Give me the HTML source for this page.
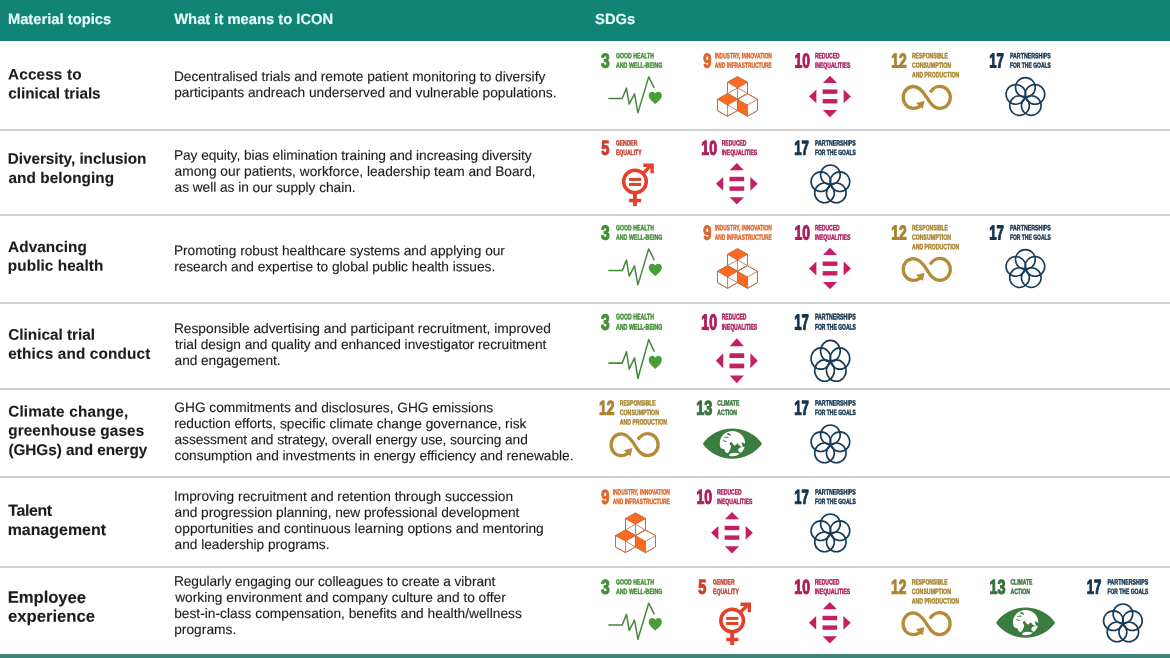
<!DOCTYPE html>
<html lang="en">
<head>
<meta charset="utf-8">
<title>Material topics and SDGs</title>
<style>
html,body{margin:0;padding:0;background:#fff}
body{width:1170px;height:658px;position:relative;overflow:hidden;font-family:"Liberation Sans",Arial,Helvetica,sans-serif;color:#1c1c1c}
h1,h2,p,hr{margin:0;padding:0;border:0;font-size:inherit;font-weight:inherit}
.hd{position:absolute;left:0;top:0;width:1170px;height:41.3px;background:#128475}
.ft{position:absolute;left:0;top:654.3px;width:1170px;height:4px;background:#3e8375}
.h,.t,.b{position:absolute;left:0;top:0;transform-origin:0 0;white-space:nowrap}
.h{font-weight:700;font-size:14.75px;line-height:20px;color:#e6fffb;-webkit-text-stroke:.15px #e6fffb}
.s{position:absolute;left:0;width:1170px;height:1.8px;background:#d0d0d0}
.t{font-weight:700;font-size:15.3px;line-height:19.0px;-webkit-text-stroke:.12px #1c1c1c}
.b{font-weight:400;font-size:13.72px;line-height:16.02px;-webkit-text-stroke:.12px #1c1c1c}
.g{position:absolute;left:590px;overflow:hidden}
.g text{font-family:"Liberation Sans",Arial,sans-serif;font-weight:700;stroke-linejoin:round;paint-order:stroke fill}
.g .n{font-size:20.1px;stroke-width:1.15px}
.g .l{font-size:7.7px;stroke-width:0.45px}
</style>
</head>
<body>
<header class="hd">
<h1 class="h" style="transform:translate(7.88px,8.90px) skewY(.03deg)">Material topics</h1>
<h1 class="h" style="transform:translate(174.20px,8.90px) skewY(.03deg)">What it means to ICON</h1>
<h1 class="h" style="transform:translate(595.07px,8.90px) skewY(.03deg)">SDGs</h1>
</header>
<main>
<section>
<h2>
<span class="t" style="letter-spacing:0.144px;transform:translate(8.06px,64.50px) skewY(.03deg)">Access to</span>
<span class="t" style="letter-spacing:-0.028px;transform:translate(8.32px,83.56px) skewY(.03deg)">clinical trials</span>
</h2>
<p>
<span class="b" style="letter-spacing:-0.012px;transform:translate(173.93px,69.00px) skewY(.03deg)">Decentralised trials and remote patient monitoring to diversify</span>
<span class="b" style="letter-spacing:-0.008px;transform:translate(174.14px,85.02px) skewY(.03deg)">participants andreach underserved and vulnerable populations.</span>
</p>
<svg class="g" style="top:42px" width="580" height="88" viewBox="590 42 580 88">
<g transform="translate(600.90 52.65)"><text class="n" x="0.15" y="14.80" fill="#438f35" stroke="#438f35" textLength="8.70" lengthAdjust="spacingAndGlyphs" transform="skewY(.05)">3</text><text class="l" x="15.1" y="5.55" fill="#438f35" stroke="#438f35" textLength="38.0" lengthAdjust="spacingAndGlyphs" transform="skewY(.05)">GOOD HEALTH</text><text class="l" x="15.1" y="15.05" fill="#438f35" stroke="#438f35" textLength="46.3" lengthAdjust="spacingAndGlyphs" transform="skewY(.05)">AND WELL-BEING</text><polyline points="8.0,45.9 21.3,45.9 25.6,35.4 28.3,51.4 33.6,41.1 37.0,60.2 47.8,24.2 53.2,34.9" fill="none" stroke="#45883a" stroke-width="1.5" stroke-linejoin="round" stroke-linecap="round"/><path d="M54.4,51.4 C52,49.3 47.8,46.4 47.8,42.9 C47.8,40.7 49.5,39.1 51.4,39.1 C52.6,39.1 53.8,39.8 54.4,40.9 C55,39.8 56.2,39.1 57.4,39.1 C59.3,39.1 61,40.7 61,42.9 C61,46.4 56.8,49.3 54.4,51.4 Z" fill="#4a9e38"/></g>
<g transform="translate(703.10 52.65)"><text class="n" x="0.15" y="14.80" fill="#dd672d" stroke="#dd672d" textLength="8.20" lengthAdjust="spacingAndGlyphs" transform="skewY(.05)">9</text><text class="l" x="11.6" y="5.55" fill="#dd672d" stroke="#dd672d" textLength="57.2" lengthAdjust="spacingAndGlyphs" transform="skewY(.05)">INDUSTRY, INNOVATION</text><text class="l" x="11.6" y="15.05" fill="#dd672d" stroke="#dd672d" textLength="57.2" lengthAdjust="spacingAndGlyphs" transform="skewY(.05)">AND INFRASTRUCTURE</text><polygon points="34.40,24.00 44.40,29.65 44.40,40.95 34.40,46.60 24.40,40.95 24.40,29.65" fill="#fff" stroke="#bd6937" stroke-width="0.8" stroke-linejoin="round"/><polygon points="34.40,24.00 44.40,29.65 34.40,35.30 24.40,29.65" fill="#fa6a20"/><line x1="34.40" y1="35.30" x2="24.40" y2="29.65" stroke="#bd6937" stroke-width="0.8" stroke-linecap="round"/><line x1="34.40" y1="35.30" x2="44.40" y2="29.65" stroke="#bd6937" stroke-width="0.8" stroke-linecap="round"/><line x1="34.40" y1="35.30" x2="34.40" y2="46.60" stroke="#bd6937" stroke-width="0.8" stroke-linecap="round"/><line x1="34.40" y1="35.30" x2="24.40" y2="40.95" stroke="#bd6937" stroke-width="0.8" stroke-linecap="round"/><line x1="34.40" y1="35.30" x2="44.40" y2="40.95" stroke="#bd6937" stroke-width="0.8" stroke-linecap="round"/><polygon points="34.40,24.00 44.40,29.65 44.40,40.95 34.40,46.60 24.40,40.95 24.40,29.65" fill="none" stroke="#bd6937" stroke-width="0.8" stroke-linejoin="round"/><polygon points="24.40,41.00 34.40,46.65 34.40,57.95 24.40,63.60 14.40,57.95 14.40,46.65" fill="#fff" stroke="#bd6937" stroke-width="0.8" stroke-linejoin="round"/><polygon points="24.40,41.00 34.40,46.65 24.40,52.30 14.40,46.65" fill="#fa6a20"/><line x1="24.40" y1="52.30" x2="14.40" y2="46.65" stroke="#bd6937" stroke-width="0.8" stroke-linecap="round"/><line x1="24.40" y1="52.30" x2="34.40" y2="46.65" stroke="#bd6937" stroke-width="0.8" stroke-linecap="round"/><line x1="24.40" y1="52.30" x2="24.40" y2="63.60" stroke="#bd6937" stroke-width="0.8" stroke-linecap="round"/><line x1="24.40" y1="52.30" x2="34.40" y2="57.95" stroke="#bd6937" stroke-width="0.8" stroke-linecap="round"/><polygon points="24.40,41.00 34.40,46.65 34.40,57.95 24.40,63.60 14.40,57.95 14.40,46.65" fill="none" stroke="#bd6937" stroke-width="0.8" stroke-linejoin="round"/><polygon points="44.40,41.00 54.40,46.65 54.40,57.95 44.40,63.60 34.40,57.95 34.40,46.65" fill="#fff" stroke="#bd6937" stroke-width="0.8" stroke-linejoin="round"/><polygon points="34.40,46.65 44.40,52.30 44.40,63.60 34.40,57.95" fill="#fa6a20"/><line x1="44.40" y1="52.30" x2="34.40" y2="46.65" stroke="#bd6937" stroke-width="0.8" stroke-linecap="round"/><line x1="44.40" y1="52.30" x2="54.40" y2="46.65" stroke="#bd6937" stroke-width="0.8" stroke-linecap="round"/><line x1="44.40" y1="52.30" x2="44.40" y2="63.60" stroke="#bd6937" stroke-width="0.8" stroke-linecap="round"/><polygon points="44.40,41.00 54.40,46.65 54.40,57.95 44.40,63.60 34.40,57.95 34.40,46.65" fill="none" stroke="#bd6937" stroke-width="0.8" stroke-linejoin="round"/></g>
<g transform="translate(794.80 52.65)"><text class="n" x="-0.25" y="14.80" fill="#ad1d5c" stroke="#ad1d5c" textLength="15.60" lengthAdjust="spacingAndGlyphs" transform="skewY(.05)">10</text><text class="l" x="20.1" y="5.55" fill="#ad1d5c" stroke="#ad1d5c" textLength="24.8" lengthAdjust="spacingAndGlyphs" transform="skewY(.05)">REDUCED</text><text class="l" x="20.1" y="15.05" fill="#ad1d5c" stroke="#ad1d5c" textLength="35.5" lengthAdjust="spacingAndGlyphs" transform="skewY(.05)">INEQUALITIES</text><rect x="27.85" y="36.80" width="14.7" height="4.4" fill="#c61e65"/><rect x="27.85" y="46.40" width="14.7" height="4.4" fill="#c61e65"/><polygon points="35.20,23.00 42.30,30.30 28.10,30.30" fill="#c61e65"/><polygon points="35.20,64.60 42.30,57.30 28.10,57.30" fill="#c61e65"/><polygon points="14.30,43.80 21.60,36.90 21.60,50.70" fill="#c61e65"/><polygon points="56.10,43.80 48.80,36.90 48.80,50.70" fill="#c61e65"/></g>
<g transform="translate(891.50 52.65)"><text class="n" x="-0.25" y="14.80" fill="#a9832f" stroke="#a9832f" textLength="15.40" lengthAdjust="spacingAndGlyphs" transform="skewY(.05)">12</text><text class="l" x="20.5" y="5.55" fill="#a9832f" stroke="#a9832f" textLength="35.9" lengthAdjust="spacingAndGlyphs" transform="skewY(.05)">RESPONSIBLE</text><text class="l" x="20.5" y="15.05" fill="#a9832f" stroke="#a9832f" textLength="39.1" lengthAdjust="spacingAndGlyphs" transform="skewY(.05)">CONSUMPTION</text><text class="l" x="20.5" y="24.55" fill="#a9832f" stroke="#a9832f" textLength="47.3" lengthAdjust="spacingAndGlyphs" transform="skewY(.05)">AND PRODUCTION</text><path d="M38.6,39.6 C41,36 44.5,33.7 48.3,33.7 C54.3,33.7 58.8,38.6 58.8,44.7 C58.8,50.8 54.3,55.7 48.3,55.7 C42,55.7 38.5,50 35.2,44.7 C31.9,39.4 28,33.85 22.0,33.85 C16.0,33.85 11.8,38.7 11.8,44.75 C11.8,50.8 16.0,55.7 22.0,55.7 C24.3,55.7 26.6,54.9 28.8,53.4" fill="none" stroke="#b48b36" stroke-width="3.3"/><polygon points="24.6,50.3 33.0,48.0 31.3,56.4" fill="#b48b36"/></g>
<g transform="translate(989.60 52.65)"><text class="n" x="-0.45" y="14.80" fill="#15344f" stroke="#15344f" textLength="14.70" lengthAdjust="spacingAndGlyphs" transform="skewY(.05)">17</text><text class="l" x="20.3" y="5.55" fill="#15344f" stroke="#15344f" textLength="41.0" lengthAdjust="spacingAndGlyphs" transform="skewY(.05)">PARTNERSHIPS</text><text class="l" x="20.3" y="15.05" fill="#15344f" stroke="#15344f" textLength="41.0" lengthAdjust="spacingAndGlyphs" transform="skewY(.05)">FOR THE GOALS</text><circle cx="35.80" cy="34.80" r="9.85" fill="none" stroke="#173b58" stroke-width="1.6"/><circle cx="45.31" cy="41.71" r="9.85" fill="none" stroke="#173b58" stroke-width="1.6"/><circle cx="41.68" cy="52.89" r="9.85" fill="none" stroke="#173b58" stroke-width="1.6"/><circle cx="29.92" cy="52.89" r="9.85" fill="none" stroke="#173b58" stroke-width="1.6"/><circle cx="26.29" cy="41.71" r="9.85" fill="none" stroke="#173b58" stroke-width="1.6"/></g>
</svg>
<hr class="s" style="top:129.10px">
</section>
<section>
<h2>
<span class="t" style="letter-spacing:-0.027px;transform:translate(7.70px,148.70px) skewY(.03deg)">Diversity, inclusion</span>
<span class="t" style="letter-spacing:0.102px;transform:translate(8.42px,167.90px) skewY(.03deg)">and belonging</span>
</h2>
<p>
<span class="b" style="letter-spacing:-0.057px;transform:translate(173.93px,147.80px) skewY(.03deg)">Pay equity, bias elimination training and increasing diversity</span>
<span class="b" style="letter-spacing:0.006px;transform:translate(174.57px,163.82px) skewY(.03deg)">among our patients, workforce, leadership team and Board,</span>
<span class="b" style="letter-spacing:-0.040px;transform:translate(174.57px,179.84px) skewY(.03deg)">as well as in our supply chain.</span>
</p>
<svg class="g" style="top:130px" width="580" height="85" viewBox="590 130 580 85">
<g transform="translate(601.00 140.00)"><text class="n" x="0.15" y="14.80" fill="#c74030" stroke="#c74030" textLength="8.10" lengthAdjust="spacingAndGlyphs" transform="skewY(.05)">5</text><text class="l" x="14.9" y="5.55" fill="#c74030" stroke="#c74030" textLength="21.4" lengthAdjust="spacingAndGlyphs" transform="skewY(.05)">GENDER</text><text class="l" x="14.9" y="15.05" fill="#c74030" stroke="#c74030" textLength="25.7" lengthAdjust="spacingAndGlyphs" transform="skewY(.05)">EQUALITY</text><circle cx="33.95" cy="41.5" r="11.3" fill="none" stroke="#e2412a" stroke-width="3.6"/><rect x="28.0" y="37.9" width="12.2" height="3.0" fill="#e2412a"/><rect x="28.0" y="43.0" width="12.2" height="3.0" fill="#e2412a"/><path d="M42.2,33.3 L50.6,24.9" stroke="#e2412a" stroke-width="3.4" fill="none"/><polygon points="42.3,23.4 52.8,23.4 52.8,33.3 49.4,33.3 49.4,26.9 42.3,26.9" fill="#e2412a"/><rect x="32.0" y="53" width="3.9" height="13.1" fill="#e2412a"/><rect x="28.1" y="58.8" width="12.1" height="3.5" fill="#e2412a"/></g>
<g transform="translate(701.60 140.00)"><text class="n" x="-0.25" y="14.80" fill="#ad1d5c" stroke="#ad1d5c" textLength="15.60" lengthAdjust="spacingAndGlyphs" transform="skewY(.05)">10</text><text class="l" x="20.1" y="5.55" fill="#ad1d5c" stroke="#ad1d5c" textLength="24.8" lengthAdjust="spacingAndGlyphs" transform="skewY(.05)">REDUCED</text><text class="l" x="20.1" y="15.05" fill="#ad1d5c" stroke="#ad1d5c" textLength="35.5" lengthAdjust="spacingAndGlyphs" transform="skewY(.05)">INEQUALITIES</text><rect x="27.85" y="36.80" width="14.7" height="4.4" fill="#c61e65"/><rect x="27.85" y="46.40" width="14.7" height="4.4" fill="#c61e65"/><polygon points="35.20,23.00 42.30,30.30 28.10,30.30" fill="#c61e65"/><polygon points="35.20,64.60 42.30,57.30 28.10,57.30" fill="#c61e65"/><polygon points="14.30,43.80 21.60,36.90 21.60,50.70" fill="#c61e65"/><polygon points="56.10,43.80 48.80,36.90 48.80,50.70" fill="#c61e65"/></g>
<g transform="translate(794.60 140.00)"><text class="n" x="-0.45" y="14.80" fill="#15344f" stroke="#15344f" textLength="14.70" lengthAdjust="spacingAndGlyphs" transform="skewY(.05)">17</text><text class="l" x="20.3" y="5.55" fill="#15344f" stroke="#15344f" textLength="41.0" lengthAdjust="spacingAndGlyphs" transform="skewY(.05)">PARTNERSHIPS</text><text class="l" x="20.3" y="15.05" fill="#15344f" stroke="#15344f" textLength="41.0" lengthAdjust="spacingAndGlyphs" transform="skewY(.05)">FOR THE GOALS</text><circle cx="35.80" cy="34.80" r="9.85" fill="none" stroke="#173b58" stroke-width="1.6"/><circle cx="45.31" cy="41.71" r="9.85" fill="none" stroke="#173b58" stroke-width="1.6"/><circle cx="41.68" cy="52.89" r="9.85" fill="none" stroke="#173b58" stroke-width="1.6"/><circle cx="29.92" cy="52.89" r="9.85" fill="none" stroke="#173b58" stroke-width="1.6"/><circle cx="26.29" cy="41.71" r="9.85" fill="none" stroke="#173b58" stroke-width="1.6"/></g>
</svg>
<hr class="s" style="top:213.90px">
</section>
<section>
<h2>
<span class="t" style="letter-spacing:0.068px;transform:translate(8.12px,237.00px) skewY(.03deg)">Advancing</span>
<span class="t" style="letter-spacing:0.095px;transform:translate(7.84px,255.70px) skewY(.03deg)">public health</span>
</h2>
<p>
<span class="b" style="letter-spacing:-0.014px;transform:translate(173.93px,243.10px) skewY(.03deg)">Promoting robust healthcare systems and applying our</span>
<span class="b" style="letter-spacing:-0.029px;transform:translate(174.14px,259.12px) skewY(.03deg)">research and expertise to global public health issues.</span>
</p>
<svg class="g" style="top:215px" width="580" height="88" viewBox="590 215 580 88">
<g transform="translate(600.90 224.70)"><text class="n" x="0.15" y="14.80" fill="#438f35" stroke="#438f35" textLength="8.70" lengthAdjust="spacingAndGlyphs" transform="skewY(.05)">3</text><text class="l" x="15.1" y="5.55" fill="#438f35" stroke="#438f35" textLength="38.0" lengthAdjust="spacingAndGlyphs" transform="skewY(.05)">GOOD HEALTH</text><text class="l" x="15.1" y="15.05" fill="#438f35" stroke="#438f35" textLength="46.3" lengthAdjust="spacingAndGlyphs" transform="skewY(.05)">AND WELL-BEING</text><polyline points="8.0,45.9 21.3,45.9 25.6,35.4 28.3,51.4 33.6,41.1 37.0,60.2 47.8,24.2 53.2,34.9" fill="none" stroke="#45883a" stroke-width="1.5" stroke-linejoin="round" stroke-linecap="round"/><path d="M54.4,51.4 C52,49.3 47.8,46.4 47.8,42.9 C47.8,40.7 49.5,39.1 51.4,39.1 C52.6,39.1 53.8,39.8 54.4,40.9 C55,39.8 56.2,39.1 57.4,39.1 C59.3,39.1 61,40.7 61,42.9 C61,46.4 56.8,49.3 54.4,51.4 Z" fill="#4a9e38"/></g>
<g transform="translate(703.10 224.70)"><text class="n" x="0.15" y="14.80" fill="#dd672d" stroke="#dd672d" textLength="8.20" lengthAdjust="spacingAndGlyphs" transform="skewY(.05)">9</text><text class="l" x="11.6" y="5.55" fill="#dd672d" stroke="#dd672d" textLength="57.2" lengthAdjust="spacingAndGlyphs" transform="skewY(.05)">INDUSTRY, INNOVATION</text><text class="l" x="11.6" y="15.05" fill="#dd672d" stroke="#dd672d" textLength="57.2" lengthAdjust="spacingAndGlyphs" transform="skewY(.05)">AND INFRASTRUCTURE</text><polygon points="34.40,24.00 44.40,29.65 44.40,40.95 34.40,46.60 24.40,40.95 24.40,29.65" fill="#fff" stroke="#bd6937" stroke-width="0.8" stroke-linejoin="round"/><polygon points="34.40,24.00 44.40,29.65 34.40,35.30 24.40,29.65" fill="#fa6a20"/><line x1="34.40" y1="35.30" x2="24.40" y2="29.65" stroke="#bd6937" stroke-width="0.8" stroke-linecap="round"/><line x1="34.40" y1="35.30" x2="44.40" y2="29.65" stroke="#bd6937" stroke-width="0.8" stroke-linecap="round"/><line x1="34.40" y1="35.30" x2="34.40" y2="46.60" stroke="#bd6937" stroke-width="0.8" stroke-linecap="round"/><line x1="34.40" y1="35.30" x2="24.40" y2="40.95" stroke="#bd6937" stroke-width="0.8" stroke-linecap="round"/><line x1="34.40" y1="35.30" x2="44.40" y2="40.95" stroke="#bd6937" stroke-width="0.8" stroke-linecap="round"/><polygon points="34.40,24.00 44.40,29.65 44.40,40.95 34.40,46.60 24.40,40.95 24.40,29.65" fill="none" stroke="#bd6937" stroke-width="0.8" stroke-linejoin="round"/><polygon points="24.40,41.00 34.40,46.65 34.40,57.95 24.40,63.60 14.40,57.95 14.40,46.65" fill="#fff" stroke="#bd6937" stroke-width="0.8" stroke-linejoin="round"/><polygon points="24.40,41.00 34.40,46.65 24.40,52.30 14.40,46.65" fill="#fa6a20"/><line x1="24.40" y1="52.30" x2="14.40" y2="46.65" stroke="#bd6937" stroke-width="0.8" stroke-linecap="round"/><line x1="24.40" y1="52.30" x2="34.40" y2="46.65" stroke="#bd6937" stroke-width="0.8" stroke-linecap="round"/><line x1="24.40" y1="52.30" x2="24.40" y2="63.60" stroke="#bd6937" stroke-width="0.8" stroke-linecap="round"/><line x1="24.40" y1="52.30" x2="34.40" y2="57.95" stroke="#bd6937" stroke-width="0.8" stroke-linecap="round"/><polygon points="24.40,41.00 34.40,46.65 34.40,57.95 24.40,63.60 14.40,57.95 14.40,46.65" fill="none" stroke="#bd6937" stroke-width="0.8" stroke-linejoin="round"/><polygon points="44.40,41.00 54.40,46.65 54.40,57.95 44.40,63.60 34.40,57.95 34.40,46.65" fill="#fff" stroke="#bd6937" stroke-width="0.8" stroke-linejoin="round"/><polygon points="34.40,46.65 44.40,52.30 44.40,63.60 34.40,57.95" fill="#fa6a20"/><line x1="44.40" y1="52.30" x2="34.40" y2="46.65" stroke="#bd6937" stroke-width="0.8" stroke-linecap="round"/><line x1="44.40" y1="52.30" x2="54.40" y2="46.65" stroke="#bd6937" stroke-width="0.8" stroke-linecap="round"/><line x1="44.40" y1="52.30" x2="44.40" y2="63.60" stroke="#bd6937" stroke-width="0.8" stroke-linecap="round"/><polygon points="44.40,41.00 54.40,46.65 54.40,57.95 44.40,63.60 34.40,57.95 34.40,46.65" fill="none" stroke="#bd6937" stroke-width="0.8" stroke-linejoin="round"/></g>
<g transform="translate(794.80 224.70)"><text class="n" x="-0.25" y="14.80" fill="#ad1d5c" stroke="#ad1d5c" textLength="15.60" lengthAdjust="spacingAndGlyphs" transform="skewY(.05)">10</text><text class="l" x="20.1" y="5.55" fill="#ad1d5c" stroke="#ad1d5c" textLength="24.8" lengthAdjust="spacingAndGlyphs" transform="skewY(.05)">REDUCED</text><text class="l" x="20.1" y="15.05" fill="#ad1d5c" stroke="#ad1d5c" textLength="35.5" lengthAdjust="spacingAndGlyphs" transform="skewY(.05)">INEQUALITIES</text><rect x="27.85" y="36.80" width="14.7" height="4.4" fill="#c61e65"/><rect x="27.85" y="46.40" width="14.7" height="4.4" fill="#c61e65"/><polygon points="35.20,23.00 42.30,30.30 28.10,30.30" fill="#c61e65"/><polygon points="35.20,64.60 42.30,57.30 28.10,57.30" fill="#c61e65"/><polygon points="14.30,43.80 21.60,36.90 21.60,50.70" fill="#c61e65"/><polygon points="56.10,43.80 48.80,36.90 48.80,50.70" fill="#c61e65"/></g>
<g transform="translate(891.50 224.70)"><text class="n" x="-0.25" y="14.80" fill="#a9832f" stroke="#a9832f" textLength="15.40" lengthAdjust="spacingAndGlyphs" transform="skewY(.05)">12</text><text class="l" x="20.5" y="5.55" fill="#a9832f" stroke="#a9832f" textLength="35.9" lengthAdjust="spacingAndGlyphs" transform="skewY(.05)">RESPONSIBLE</text><text class="l" x="20.5" y="15.05" fill="#a9832f" stroke="#a9832f" textLength="39.1" lengthAdjust="spacingAndGlyphs" transform="skewY(.05)">CONSUMPTION</text><text class="l" x="20.5" y="24.55" fill="#a9832f" stroke="#a9832f" textLength="47.3" lengthAdjust="spacingAndGlyphs" transform="skewY(.05)">AND PRODUCTION</text><path d="M38.6,39.6 C41,36 44.5,33.7 48.3,33.7 C54.3,33.7 58.8,38.6 58.8,44.7 C58.8,50.8 54.3,55.7 48.3,55.7 C42,55.7 38.5,50 35.2,44.7 C31.9,39.4 28,33.85 22.0,33.85 C16.0,33.85 11.8,38.7 11.8,44.75 C11.8,50.8 16.0,55.7 22.0,55.7 C24.3,55.7 26.6,54.9 28.8,53.4" fill="none" stroke="#b48b36" stroke-width="3.3"/><polygon points="24.6,50.3 33.0,48.0 31.3,56.4" fill="#b48b36"/></g>
<g transform="translate(989.60 224.70)"><text class="n" x="-0.45" y="14.80" fill="#15344f" stroke="#15344f" textLength="14.70" lengthAdjust="spacingAndGlyphs" transform="skewY(.05)">17</text><text class="l" x="20.3" y="5.55" fill="#15344f" stroke="#15344f" textLength="41.0" lengthAdjust="spacingAndGlyphs" transform="skewY(.05)">PARTNERSHIPS</text><text class="l" x="20.3" y="15.05" fill="#15344f" stroke="#15344f" textLength="41.0" lengthAdjust="spacingAndGlyphs" transform="skewY(.05)">FOR THE GOALS</text><circle cx="35.80" cy="34.80" r="9.85" fill="none" stroke="#173b58" stroke-width="1.6"/><circle cx="45.31" cy="41.71" r="9.85" fill="none" stroke="#173b58" stroke-width="1.6"/><circle cx="41.68" cy="52.89" r="9.85" fill="none" stroke="#173b58" stroke-width="1.6"/><circle cx="29.92" cy="52.89" r="9.85" fill="none" stroke="#173b58" stroke-width="1.6"/><circle cx="26.29" cy="41.71" r="9.85" fill="none" stroke="#173b58" stroke-width="1.6"/></g>
</svg>
<hr class="s" style="top:301.90px">
</section>
<section>
<h2>
<span class="t" style="letter-spacing:0.015px;transform:translate(8.18px,324.80px) skewY(.03deg)">Clinical trial</span>
<span class="t" style="letter-spacing:0.157px;transform:translate(8.18px,343.80px) skewY(.03deg)">ethics and conduct</span>
</h2>
<p>
<span class="b" style="letter-spacing:0.015px;transform:translate(173.93px,320.90px) skewY(.03deg)">Responsible advertising and participant recruitment, improved</span>
<span class="b" style="letter-spacing:-0.039px;transform:translate(175.00px,336.92px) skewY(.03deg)">trial design and quality and enhanced investigator recruitment</span>
<span class="b" style="letter-spacing:-0.059px;transform:translate(174.57px,352.94px) skewY(.03deg)">and engagement.</span>
</p>
<svg class="g" style="top:303px" width="580" height="86" viewBox="590 303 580 86">
<g transform="translate(600.90 313.50) scale(1 1.08)"><text class="n" x="0.15" y="14.80" fill="#438f35" stroke="#438f35" textLength="8.70" lengthAdjust="spacingAndGlyphs" transform="skewY(.05)">3</text><text class="l" x="15.1" y="5.55" fill="#438f35" stroke="#438f35" textLength="38.0" lengthAdjust="spacingAndGlyphs" transform="skewY(.05)">GOOD HEALTH</text><text class="l" x="15.1" y="15.05" fill="#438f35" stroke="#438f35" textLength="46.3" lengthAdjust="spacingAndGlyphs" transform="skewY(.05)">AND WELL-BEING</text><polyline points="8.0,45.9 21.3,45.9 25.6,35.4 28.3,51.4 33.6,41.1 37.0,60.2 47.8,24.2 53.2,34.9" fill="none" stroke="#45883a" stroke-width="1.5" stroke-linejoin="round" stroke-linecap="round"/><path d="M54.4,51.4 C52,49.3 47.8,46.4 47.8,42.9 C47.8,40.7 49.5,39.1 51.4,39.1 C52.6,39.1 53.8,39.8 54.4,40.9 C55,39.8 56.2,39.1 57.4,39.1 C59.3,39.1 61,40.7 61,42.9 C61,46.4 56.8,49.3 54.4,51.4 Z" fill="#4a9e38"/></g>
<g transform="translate(701.60 313.50) scale(1 1.08)"><text class="n" x="-0.25" y="14.80" fill="#ad1d5c" stroke="#ad1d5c" textLength="15.60" lengthAdjust="spacingAndGlyphs" transform="skewY(.05)">10</text><text class="l" x="20.1" y="5.55" fill="#ad1d5c" stroke="#ad1d5c" textLength="24.8" lengthAdjust="spacingAndGlyphs" transform="skewY(.05)">REDUCED</text><text class="l" x="20.1" y="15.05" fill="#ad1d5c" stroke="#ad1d5c" textLength="35.5" lengthAdjust="spacingAndGlyphs" transform="skewY(.05)">INEQUALITIES</text><rect x="27.85" y="36.80" width="14.7" height="4.4" fill="#c61e65"/><rect x="27.85" y="46.40" width="14.7" height="4.4" fill="#c61e65"/><polygon points="35.20,23.00 42.30,30.30 28.10,30.30" fill="#c61e65"/><polygon points="35.20,64.60 42.30,57.30 28.10,57.30" fill="#c61e65"/><polygon points="14.30,43.80 21.60,36.90 21.60,50.70" fill="#c61e65"/><polygon points="56.10,43.80 48.80,36.90 48.80,50.70" fill="#c61e65"/></g>
<g transform="translate(794.60 313.50) scale(1 1.08)"><text class="n" x="-0.45" y="14.80" fill="#15344f" stroke="#15344f" textLength="14.70" lengthAdjust="spacingAndGlyphs" transform="skewY(.05)">17</text><text class="l" x="20.3" y="5.55" fill="#15344f" stroke="#15344f" textLength="41.0" lengthAdjust="spacingAndGlyphs" transform="skewY(.05)">PARTNERSHIPS</text><text class="l" x="20.3" y="15.05" fill="#15344f" stroke="#15344f" textLength="41.0" lengthAdjust="spacingAndGlyphs" transform="skewY(.05)">FOR THE GOALS</text><circle cx="35.80" cy="34.80" r="9.85" fill="none" stroke="#173b58" stroke-width="1.6"/><circle cx="45.31" cy="41.71" r="9.85" fill="none" stroke="#173b58" stroke-width="1.6"/><circle cx="41.68" cy="52.89" r="9.85" fill="none" stroke="#173b58" stroke-width="1.6"/><circle cx="29.92" cy="52.89" r="9.85" fill="none" stroke="#173b58" stroke-width="1.6"/><circle cx="26.29" cy="41.71" r="9.85" fill="none" stroke="#173b58" stroke-width="1.6"/></g>
</svg>
<hr class="s" style="top:387.85px">
</section>
<section>
<h2>
<span class="t" style="letter-spacing:0.199px;transform:translate(8.18px,401.60px) skewY(.03deg)">Climate change,</span>
<span class="t" style="letter-spacing:0.112px;transform:translate(8.18px,420.60px) skewY(.03deg)">greenhouse gases</span>
<span class="t" style="letter-spacing:-0.032px;transform:translate(8.38px,439.90px) skewY(.03deg)">(GHGs) and energy</span>
</h2>
<p>
<span class="b" style="letter-spacing:-0.015px;transform:translate(174.36px,400.05px) skewY(.03deg)">GHG commitments and disclosures, GHG emissions</span>
<span class="b" style="letter-spacing:0.004px;transform:translate(174.14px,416.07px) skewY(.03deg)">reduction efforts, specific climate change governance, risk</span>
<span class="b" style="letter-spacing:-0.075px;transform:translate(174.57px,432.09px) skewY(.03deg)">assessment and strategy, overall energy use, sourcing and</span>
<span class="b" style="letter-spacing:-0.019px;transform:translate(174.57px,448.11px) skewY(.03deg)">consumption and investments in energy efficiency and renewable.</span>
</p>
<svg class="g" style="top:389px" width="580" height="88" viewBox="590 389 580 88">
<g transform="translate(599.30 400.00)"><text class="n" x="-0.25" y="14.80" fill="#a9832f" stroke="#a9832f" textLength="15.40" lengthAdjust="spacingAndGlyphs" transform="skewY(.05)">12</text><text class="l" x="20.5" y="5.55" fill="#a9832f" stroke="#a9832f" textLength="35.9" lengthAdjust="spacingAndGlyphs" transform="skewY(.05)">RESPONSIBLE</text><text class="l" x="20.5" y="15.05" fill="#a9832f" stroke="#a9832f" textLength="39.1" lengthAdjust="spacingAndGlyphs" transform="skewY(.05)">CONSUMPTION</text><text class="l" x="20.5" y="24.55" fill="#a9832f" stroke="#a9832f" textLength="47.3" lengthAdjust="spacingAndGlyphs" transform="skewY(.05)">AND PRODUCTION</text><path d="M38.6,39.6 C41,36 44.5,33.7 48.3,33.7 C54.3,33.7 58.8,38.6 58.8,44.7 C58.8,50.8 54.3,55.7 48.3,55.7 C42,55.7 38.5,50 35.2,44.7 C31.9,39.4 28,33.85 22.0,33.85 C16.0,33.85 11.8,38.7 11.8,44.75 C11.8,50.8 16.0,55.7 22.0,55.7 C24.3,55.7 26.6,54.9 28.8,53.4" fill="none" stroke="#b48b36" stroke-width="3.3"/><polygon points="24.6,50.3 33.0,48.0 31.3,56.4" fill="#b48b36"/></g>
<g transform="translate(696.60 400.00)"><text class="n" x="-0.35" y="14.80" fill="#37733b" stroke="#37733b" textLength="16.10" lengthAdjust="spacingAndGlyphs" transform="skewY(.05)">13</text><text class="l" x="20.65" y="5.55" fill="#37733b" stroke="#37733b" textLength="22.0" lengthAdjust="spacingAndGlyphs" transform="skewY(.05)">CLIMATE</text><text class="l" x="20.65" y="15.05" fill="#37733b" stroke="#37733b" textLength="19.6" lengthAdjust="spacingAndGlyphs" transform="skewY(.05)">ACTION</text><path d="M6.1,43.65 A36.6,36.6 0 0 1 65.5,43.65 A36.6,36.6 0 0 1 6.1,43.65 Z" fill="#3a7d3f"/><circle cx="35.8" cy="43.55" r="12.65" fill="#fff"/><polygon points="33.04,42.94 34.45,41.64 35.45,42.64 36.55,44.54 38.46,45.65 39.86,44.14 41.06,43.14 42.07,44.64 43.47,46.05 44.72,46.65 46.58,46.95 43.47,47.45 41.72,49.06 41.57,50.56 42.22,51.81 43.57,52.66 42.72,53.67 40.46,52.96 37.46,52.66 34.45,53.17 32.69,54.47 32.09,52.31 32.94,50.56 34.05,48.30 34.45,46.05 33.19,44.54" fill="#3a7d3f"/><polygon points="22.42,46.65 25.43,48.65 27.53,49.36 28.83,52.06 30.44,53.27 32.09,52.31 32.69,54.47 32.19,57.08 27.43,55.07 22.92,51.06" fill="#3a7d3f"/><polygon points="45.07,42.04 46.73,42.94 48.48,43.79 49.49,46.55 46.58,46.95 45.48,44.64" fill="#3a7d3f"/><polygon points="42.72,53.67 43.57,52.66 45.48,52.16 47.73,50.56 48.98,51.06 46.48,55.57 43.72,56.57" fill="#3a7d3f"/><polygon points="26.03,40.13 27.93,40.43 30.34,41.14 30.44,41.84 28.18,41.64 26.18,40.83" fill="#3a7d3f"/><polygon points="30.19,33.42 32.44,33.12 34.20,35.02 33.95,35.92 32.44,35.27 30.44,34.52" fill="#3a7d3f"/><polygon points="27.18,37.13 30.44,36.62 32.69,37.33 30.44,37.73 27.33,37.63" fill="#3a7d3f"/></g>
<g transform="translate(794.60 400.00)"><text class="n" x="-0.45" y="14.80" fill="#15344f" stroke="#15344f" textLength="14.70" lengthAdjust="spacingAndGlyphs" transform="skewY(.05)">17</text><text class="l" x="20.3" y="5.55" fill="#15344f" stroke="#15344f" textLength="41.0" lengthAdjust="spacingAndGlyphs" transform="skewY(.05)">PARTNERSHIPS</text><text class="l" x="20.3" y="15.05" fill="#15344f" stroke="#15344f" textLength="41.0" lengthAdjust="spacingAndGlyphs" transform="skewY(.05)">FOR THE GOALS</text><circle cx="35.80" cy="34.80" r="9.85" fill="none" stroke="#173b58" stroke-width="1.6"/><circle cx="45.31" cy="41.71" r="9.85" fill="none" stroke="#173b58" stroke-width="1.6"/><circle cx="41.68" cy="52.89" r="9.85" fill="none" stroke="#173b58" stroke-width="1.6"/><circle cx="29.92" cy="52.89" r="9.85" fill="none" stroke="#173b58" stroke-width="1.6"/><circle cx="26.29" cy="41.71" r="9.85" fill="none" stroke="#173b58" stroke-width="1.6"/></g>
</svg>
<hr class="s" style="top:476.10px">
</section>
<section>
<h2>
<span class="t" style="font-size:15.9px;letter-spacing:-0.353px;transform:translate(8.30px,500.80px) skewY(.03deg)">Talent</span>
<span class="t" style="font-size:15.9px;letter-spacing:0.031px;transform:translate(7.67px,519.90px) skewY(.03deg)">management</span>
</h2>
<p>
<span class="b" style="letter-spacing:0.010px;transform:translate(173.93px,488.85px) skewY(.03deg)">Improving recruitment and retention through succession</span>
<span class="b" style="letter-spacing:-0.041px;transform:translate(174.57px,504.87px) skewY(.03deg)">and progression planning, new professional development</span>
<span class="b" style="letter-spacing:0.027px;transform:translate(174.57px,520.89px) skewY(.03deg)">opportunities and continuous learning options and mentoring</span>
<span class="b" style="letter-spacing:-0.027px;transform:translate(174.57px,536.91px) skewY(.03deg)">and leadership programs.</span>
</p>
<svg class="g" style="top:477px" width="580" height="90" viewBox="590 477 580 90">
<g transform="translate(601.10 489.00)"><text class="n" x="0.15" y="14.80" fill="#dd672d" stroke="#dd672d" textLength="8.20" lengthAdjust="spacingAndGlyphs" transform="skewY(.05)">9</text><text class="l" x="11.6" y="5.55" fill="#dd672d" stroke="#dd672d" textLength="57.2" lengthAdjust="spacingAndGlyphs" transform="skewY(.05)">INDUSTRY, INNOVATION</text><text class="l" x="11.6" y="15.05" fill="#dd672d" stroke="#dd672d" textLength="57.2" lengthAdjust="spacingAndGlyphs" transform="skewY(.05)">AND INFRASTRUCTURE</text><polygon points="34.40,24.00 44.40,29.65 44.40,40.95 34.40,46.60 24.40,40.95 24.40,29.65" fill="#fff" stroke="#bd6937" stroke-width="0.8" stroke-linejoin="round"/><polygon points="34.40,24.00 44.40,29.65 34.40,35.30 24.40,29.65" fill="#fa6a20"/><line x1="34.40" y1="35.30" x2="24.40" y2="29.65" stroke="#bd6937" stroke-width="0.8" stroke-linecap="round"/><line x1="34.40" y1="35.30" x2="44.40" y2="29.65" stroke="#bd6937" stroke-width="0.8" stroke-linecap="round"/><line x1="34.40" y1="35.30" x2="34.40" y2="46.60" stroke="#bd6937" stroke-width="0.8" stroke-linecap="round"/><line x1="34.40" y1="35.30" x2="24.40" y2="40.95" stroke="#bd6937" stroke-width="0.8" stroke-linecap="round"/><line x1="34.40" y1="35.30" x2="44.40" y2="40.95" stroke="#bd6937" stroke-width="0.8" stroke-linecap="round"/><polygon points="34.40,24.00 44.40,29.65 44.40,40.95 34.40,46.60 24.40,40.95 24.40,29.65" fill="none" stroke="#bd6937" stroke-width="0.8" stroke-linejoin="round"/><polygon points="24.40,41.00 34.40,46.65 34.40,57.95 24.40,63.60 14.40,57.95 14.40,46.65" fill="#fff" stroke="#bd6937" stroke-width="0.8" stroke-linejoin="round"/><polygon points="24.40,41.00 34.40,46.65 24.40,52.30 14.40,46.65" fill="#fa6a20"/><line x1="24.40" y1="52.30" x2="14.40" y2="46.65" stroke="#bd6937" stroke-width="0.8" stroke-linecap="round"/><line x1="24.40" y1="52.30" x2="34.40" y2="46.65" stroke="#bd6937" stroke-width="0.8" stroke-linecap="round"/><line x1="24.40" y1="52.30" x2="24.40" y2="63.60" stroke="#bd6937" stroke-width="0.8" stroke-linecap="round"/><line x1="24.40" y1="52.30" x2="34.40" y2="57.95" stroke="#bd6937" stroke-width="0.8" stroke-linecap="round"/><polygon points="24.40,41.00 34.40,46.65 34.40,57.95 24.40,63.60 14.40,57.95 14.40,46.65" fill="none" stroke="#bd6937" stroke-width="0.8" stroke-linejoin="round"/><polygon points="44.40,41.00 54.40,46.65 54.40,57.95 44.40,63.60 34.40,57.95 34.40,46.65" fill="#fff" stroke="#bd6937" stroke-width="0.8" stroke-linejoin="round"/><polygon points="34.40,46.65 44.40,52.30 44.40,63.60 34.40,57.95" fill="#fa6a20"/><line x1="44.40" y1="52.30" x2="34.40" y2="46.65" stroke="#bd6937" stroke-width="0.8" stroke-linecap="round"/><line x1="44.40" y1="52.30" x2="54.40" y2="46.65" stroke="#bd6937" stroke-width="0.8" stroke-linecap="round"/><line x1="44.40" y1="52.30" x2="44.40" y2="63.60" stroke="#bd6937" stroke-width="0.8" stroke-linecap="round"/><polygon points="44.40,41.00 54.40,46.65 54.40,57.95 44.40,63.60 34.40,57.95 34.40,46.65" fill="none" stroke="#bd6937" stroke-width="0.8" stroke-linejoin="round"/></g>
<g transform="translate(696.80 489.00)"><text class="n" x="-0.25" y="14.80" fill="#ad1d5c" stroke="#ad1d5c" textLength="15.60" lengthAdjust="spacingAndGlyphs" transform="skewY(.05)">10</text><text class="l" x="20.1" y="5.55" fill="#ad1d5c" stroke="#ad1d5c" textLength="24.8" lengthAdjust="spacingAndGlyphs" transform="skewY(.05)">REDUCED</text><text class="l" x="20.1" y="15.05" fill="#ad1d5c" stroke="#ad1d5c" textLength="35.5" lengthAdjust="spacingAndGlyphs" transform="skewY(.05)">INEQUALITIES</text><rect x="27.85" y="36.80" width="14.7" height="4.4" fill="#c61e65"/><rect x="27.85" y="46.40" width="14.7" height="4.4" fill="#c61e65"/><polygon points="35.20,23.00 42.30,30.30 28.10,30.30" fill="#c61e65"/><polygon points="35.20,64.60 42.30,57.30 28.10,57.30" fill="#c61e65"/><polygon points="14.30,43.80 21.60,36.90 21.60,50.70" fill="#c61e65"/><polygon points="56.10,43.80 48.80,36.90 48.80,50.70" fill="#c61e65"/></g>
<g transform="translate(794.60 489.00)"><text class="n" x="-0.45" y="14.80" fill="#15344f" stroke="#15344f" textLength="14.70" lengthAdjust="spacingAndGlyphs" transform="skewY(.05)">17</text><text class="l" x="20.3" y="5.55" fill="#15344f" stroke="#15344f" textLength="41.0" lengthAdjust="spacingAndGlyphs" transform="skewY(.05)">PARTNERSHIPS</text><text class="l" x="20.3" y="15.05" fill="#15344f" stroke="#15344f" textLength="41.0" lengthAdjust="spacingAndGlyphs" transform="skewY(.05)">FOR THE GOALS</text><circle cx="35.80" cy="34.80" r="9.85" fill="none" stroke="#173b58" stroke-width="1.6"/><circle cx="45.31" cy="41.71" r="9.85" fill="none" stroke="#173b58" stroke-width="1.6"/><circle cx="41.68" cy="52.89" r="9.85" fill="none" stroke="#173b58" stroke-width="1.6"/><circle cx="29.92" cy="52.89" r="9.85" fill="none" stroke="#173b58" stroke-width="1.6"/><circle cx="26.29" cy="41.71" r="9.85" fill="none" stroke="#173b58" stroke-width="1.6"/></g>
</svg>
<hr class="s" style="top:566.10px">
</section>
<section>
<h2>
<span class="t" style="font-size:16.7px;letter-spacing:-0.076px;transform:translate(7.76px,587.85px) skewY(.03deg)">Employee</span>
<span class="t" style="font-size:16.7px;letter-spacing:-0.026px;transform:translate(8.08px,606.75px) skewY(.03deg)">experience</span>
</h2>
<p>
<span class="b" style="letter-spacing:-0.067px;transform:translate(173.93px,573.85px) skewY(.03deg)">Regularly engaging our colleagues to create a vibrant</span>
<span class="b" style="letter-spacing:-0.002px;transform:translate(175.21px,589.87px) skewY(.03deg)">working environment and company culture and to offer</span>
<span class="b" style="letter-spacing:0.026px;transform:translate(174.14px,605.89px) skewY(.03deg)">best-in-class compensation, benefits and health/wellness</span>
<span class="b" style="letter-spacing:0.042px;transform:translate(174.14px,621.91px) skewY(.03deg)">programs.</span>
</p>
<svg class="g" style="top:567px" width="580" height="91" viewBox="590 567 580 91">
<g transform="translate(600.90 579.00)"><text class="n" x="0.15" y="14.80" fill="#438f35" stroke="#438f35" textLength="8.70" lengthAdjust="spacingAndGlyphs" transform="skewY(.05)">3</text><text class="l" x="15.1" y="5.55" fill="#438f35" stroke="#438f35" textLength="38.0" lengthAdjust="spacingAndGlyphs" transform="skewY(.05)">GOOD HEALTH</text><text class="l" x="15.1" y="15.05" fill="#438f35" stroke="#438f35" textLength="46.3" lengthAdjust="spacingAndGlyphs" transform="skewY(.05)">AND WELL-BEING</text><polyline points="8.0,45.9 21.3,45.9 25.6,35.4 28.3,51.4 33.6,41.1 37.0,60.2 47.8,24.2 53.2,34.9" fill="none" stroke="#45883a" stroke-width="1.5" stroke-linejoin="round" stroke-linecap="round"/><path d="M54.4,51.4 C52,49.3 47.8,46.4 47.8,42.9 C47.8,40.7 49.5,39.1 51.4,39.1 C52.6,39.1 53.8,39.8 54.4,40.9 C55,39.8 56.2,39.1 57.4,39.1 C59.3,39.1 61,40.7 61,42.9 C61,46.4 56.8,49.3 54.4,51.4 Z" fill="#4a9e38"/></g>
<g transform="translate(698.20 579.00)"><text class="n" x="0.15" y="14.80" fill="#c74030" stroke="#c74030" textLength="8.10" lengthAdjust="spacingAndGlyphs" transform="skewY(.05)">5</text><text class="l" x="14.9" y="5.55" fill="#c74030" stroke="#c74030" textLength="21.4" lengthAdjust="spacingAndGlyphs" transform="skewY(.05)">GENDER</text><text class="l" x="14.9" y="15.05" fill="#c74030" stroke="#c74030" textLength="25.7" lengthAdjust="spacingAndGlyphs" transform="skewY(.05)">EQUALITY</text><circle cx="33.95" cy="41.5" r="11.3" fill="none" stroke="#e2412a" stroke-width="3.6"/><rect x="28.0" y="37.9" width="12.2" height="3.0" fill="#e2412a"/><rect x="28.0" y="43.0" width="12.2" height="3.0" fill="#e2412a"/><path d="M42.2,33.3 L50.6,24.9" stroke="#e2412a" stroke-width="3.4" fill="none"/><polygon points="42.3,23.4 52.8,23.4 52.8,33.3 49.4,33.3 49.4,26.9 42.3,26.9" fill="#e2412a"/><rect x="32.0" y="53" width="3.9" height="13.1" fill="#e2412a"/><rect x="28.1" y="58.8" width="12.1" height="3.5" fill="#e2412a"/></g>
<g transform="translate(794.60 579.00)"><text class="n" x="-0.25" y="14.80" fill="#ad1d5c" stroke="#ad1d5c" textLength="15.60" lengthAdjust="spacingAndGlyphs" transform="skewY(.05)">10</text><text class="l" x="20.1" y="5.55" fill="#ad1d5c" stroke="#ad1d5c" textLength="24.8" lengthAdjust="spacingAndGlyphs" transform="skewY(.05)">REDUCED</text><text class="l" x="20.1" y="15.05" fill="#ad1d5c" stroke="#ad1d5c" textLength="35.5" lengthAdjust="spacingAndGlyphs" transform="skewY(.05)">INEQUALITIES</text><rect x="27.85" y="36.80" width="14.7" height="4.4" fill="#c61e65"/><rect x="27.85" y="46.40" width="14.7" height="4.4" fill="#c61e65"/><polygon points="35.20,23.00 42.30,30.30 28.10,30.30" fill="#c61e65"/><polygon points="35.20,64.60 42.30,57.30 28.10,57.30" fill="#c61e65"/><polygon points="14.30,43.80 21.60,36.90 21.60,50.70" fill="#c61e65"/><polygon points="56.10,43.80 48.80,36.90 48.80,50.70" fill="#c61e65"/></g>
<g transform="translate(891.30 579.00)"><text class="n" x="-0.25" y="14.80" fill="#a9832f" stroke="#a9832f" textLength="15.40" lengthAdjust="spacingAndGlyphs" transform="skewY(.05)">12</text><text class="l" x="20.5" y="5.55" fill="#a9832f" stroke="#a9832f" textLength="35.9" lengthAdjust="spacingAndGlyphs" transform="skewY(.05)">RESPONSIBLE</text><text class="l" x="20.5" y="15.05" fill="#a9832f" stroke="#a9832f" textLength="39.1" lengthAdjust="spacingAndGlyphs" transform="skewY(.05)">CONSUMPTION</text><text class="l" x="20.5" y="24.55" fill="#a9832f" stroke="#a9832f" textLength="47.3" lengthAdjust="spacingAndGlyphs" transform="skewY(.05)">AND PRODUCTION</text><path d="M38.6,39.6 C41,36 44.5,33.7 48.3,33.7 C54.3,33.7 58.8,38.6 58.8,44.7 C58.8,50.8 54.3,55.7 48.3,55.7 C42,55.7 38.5,50 35.2,44.7 C31.9,39.4 28,33.85 22.0,33.85 C16.0,33.85 11.8,38.7 11.8,44.75 C11.8,50.8 16.0,55.7 22.0,55.7 C24.3,55.7 26.6,54.9 28.8,53.4" fill="none" stroke="#b48b36" stroke-width="3.3"/><polygon points="24.6,50.3 33.0,48.0 31.3,56.4" fill="#b48b36"/></g>
<g transform="translate(989.80 579.00)"><text class="n" x="-0.35" y="14.80" fill="#37733b" stroke="#37733b" textLength="16.10" lengthAdjust="spacingAndGlyphs" transform="skewY(.05)">13</text><text class="l" x="20.65" y="5.55" fill="#37733b" stroke="#37733b" textLength="22.0" lengthAdjust="spacingAndGlyphs" transform="skewY(.05)">CLIMATE</text><text class="l" x="20.65" y="15.05" fill="#37733b" stroke="#37733b" textLength="19.6" lengthAdjust="spacingAndGlyphs" transform="skewY(.05)">ACTION</text><path d="M6.1,43.65 A36.6,36.6 0 0 1 65.5,43.65 A36.6,36.6 0 0 1 6.1,43.65 Z" fill="#3a7d3f"/><circle cx="35.8" cy="43.55" r="12.65" fill="#fff"/><polygon points="33.04,42.94 34.45,41.64 35.45,42.64 36.55,44.54 38.46,45.65 39.86,44.14 41.06,43.14 42.07,44.64 43.47,46.05 44.72,46.65 46.58,46.95 43.47,47.45 41.72,49.06 41.57,50.56 42.22,51.81 43.57,52.66 42.72,53.67 40.46,52.96 37.46,52.66 34.45,53.17 32.69,54.47 32.09,52.31 32.94,50.56 34.05,48.30 34.45,46.05 33.19,44.54" fill="#3a7d3f"/><polygon points="22.42,46.65 25.43,48.65 27.53,49.36 28.83,52.06 30.44,53.27 32.09,52.31 32.69,54.47 32.19,57.08 27.43,55.07 22.92,51.06" fill="#3a7d3f"/><polygon points="45.07,42.04 46.73,42.94 48.48,43.79 49.49,46.55 46.58,46.95 45.48,44.64" fill="#3a7d3f"/><polygon points="42.72,53.67 43.57,52.66 45.48,52.16 47.73,50.56 48.98,51.06 46.48,55.57 43.72,56.57" fill="#3a7d3f"/><polygon points="26.03,40.13 27.93,40.43 30.34,41.14 30.44,41.84 28.18,41.64 26.18,40.83" fill="#3a7d3f"/><polygon points="30.19,33.42 32.44,33.12 34.20,35.02 33.95,35.92 32.44,35.27 30.44,34.52" fill="#3a7d3f"/><polygon points="27.18,37.13 30.44,36.62 32.69,37.33 30.44,37.73 27.33,37.63" fill="#3a7d3f"/></g>
<g transform="translate(1087.10 579.00)"><text class="n" x="-0.45" y="14.80" fill="#15344f" stroke="#15344f" textLength="14.70" lengthAdjust="spacingAndGlyphs" transform="skewY(.05)">17</text><text class="l" x="20.3" y="5.55" fill="#15344f" stroke="#15344f" textLength="41.0" lengthAdjust="spacingAndGlyphs" transform="skewY(.05)">PARTNERSHIPS</text><text class="l" x="20.3" y="15.05" fill="#15344f" stroke="#15344f" textLength="41.0" lengthAdjust="spacingAndGlyphs" transform="skewY(.05)">FOR THE GOALS</text><circle cx="35.80" cy="34.80" r="9.85" fill="none" stroke="#173b58" stroke-width="1.6"/><circle cx="45.31" cy="41.71" r="9.85" fill="none" stroke="#173b58" stroke-width="1.6"/><circle cx="41.68" cy="52.89" r="9.85" fill="none" stroke="#173b58" stroke-width="1.6"/><circle cx="29.92" cy="52.89" r="9.85" fill="none" stroke="#173b58" stroke-width="1.6"/><circle cx="26.29" cy="41.71" r="9.85" fill="none" stroke="#173b58" stroke-width="1.6"/></g>
</svg>
</section>
</main>
<footer class="ft"></footer>
</body>
</html>
